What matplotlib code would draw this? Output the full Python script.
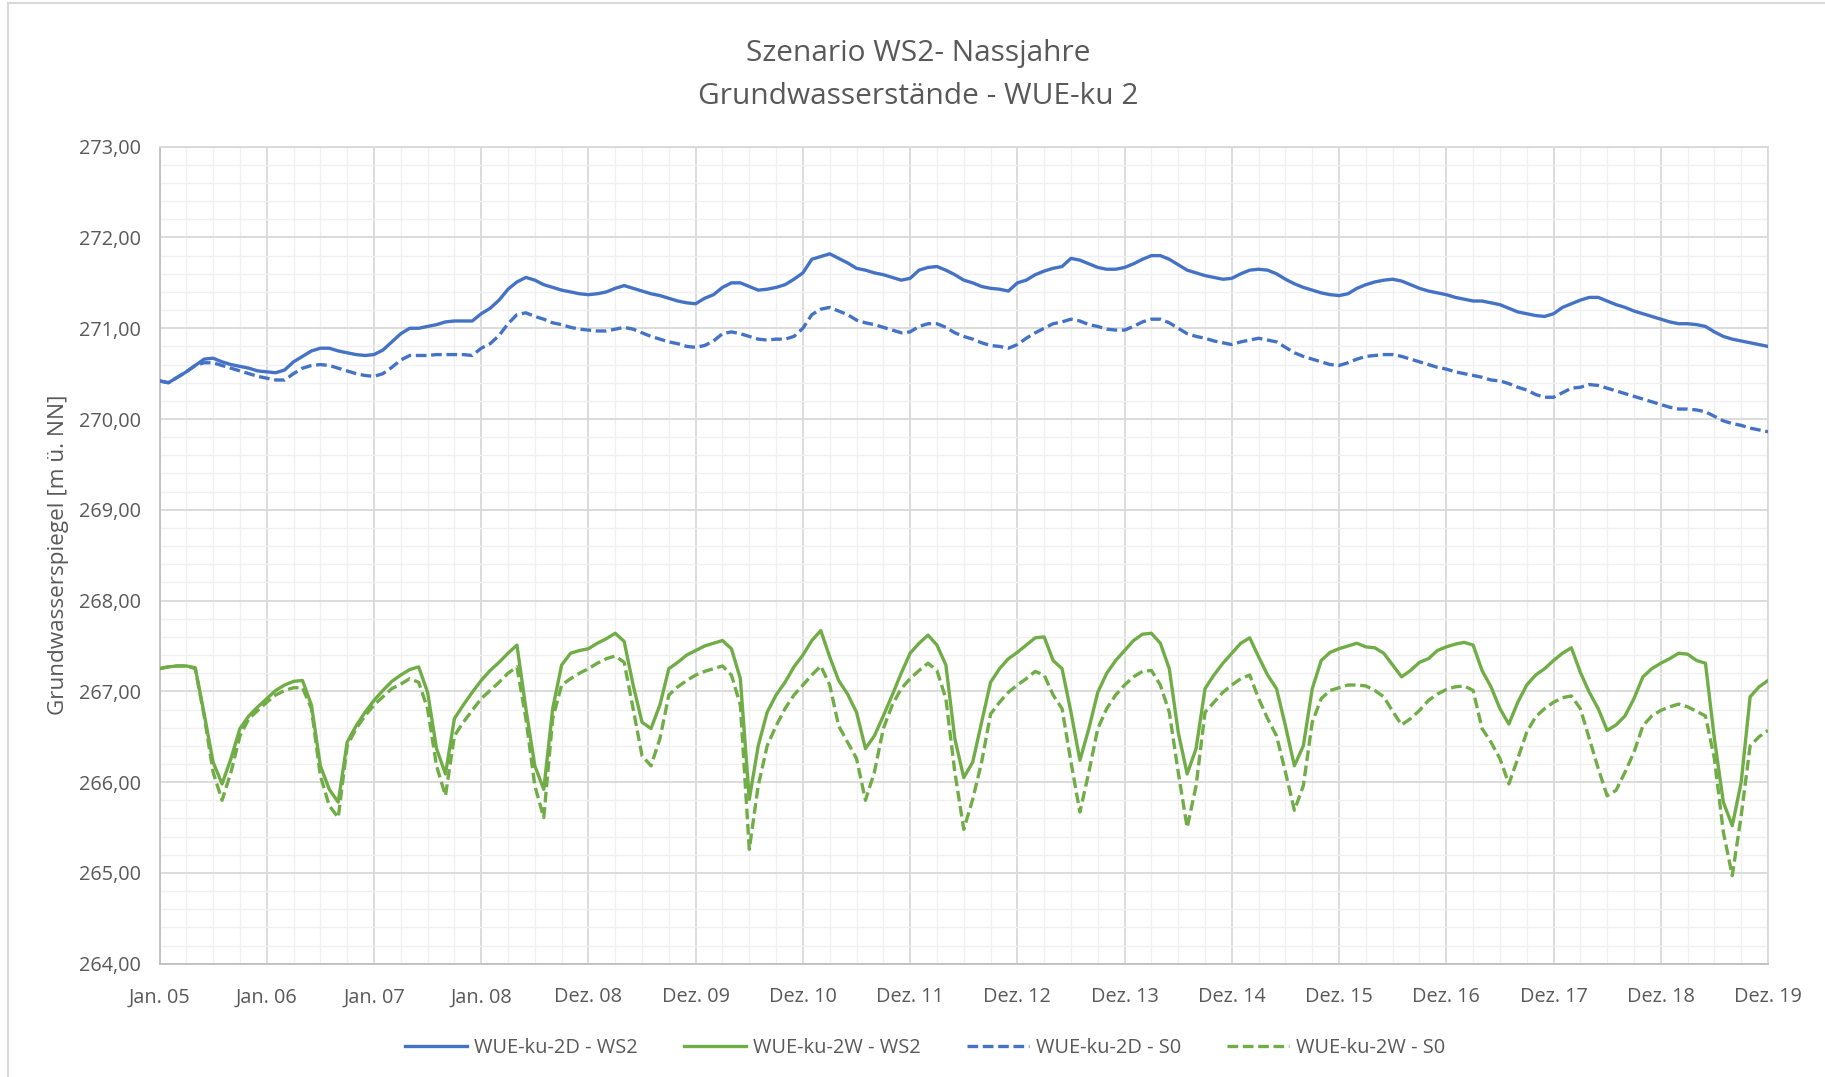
import numpy as np
import matplotlib
matplotlib.use("Agg")
import matplotlib.pyplot as plt
from matplotlib.lines import Line2D
from matplotlib.ticker import MultipleLocator, FixedLocator

# ---------------- data (monthly readings, Jan 05 .. Dez 19) ----------------
tick_labels = ["Jan. 05", "Jan. 06", "Jan. 07", "Jan. 08", "Dez. 08", "Dez. 09",
               "Dez. 10", "Dez. 11", "Dez. 12", "Dez. 13", "Dez. 14", "Dez. 15",
               "Dez. 16", "Dez. 17", "Dez. 18", "Dez. 19"]

wue_2d_ws2 = [
    270.42, 270.40, 270.46, 270.52, 270.59, 270.66, 270.67, 270.63, 270.60, 270.58, 270.56, 270.53,
    270.52, 270.51, 270.54, 270.63, 270.69, 270.75, 270.78, 270.78, 270.75, 270.73, 270.71, 270.70,
    270.71, 270.76, 270.85, 270.94, 271.00, 271.00, 271.02, 271.04, 271.07, 271.08, 271.08, 271.08,
    271.16, 271.22, 271.31, 271.43, 271.51, 271.56, 271.53, 271.48, 271.45, 271.42, 271.40, 271.38,
    271.37, 271.38, 271.40, 271.44, 271.47, 271.44, 271.41, 271.38, 271.36, 271.33, 271.30, 271.28,
    271.27, 271.33, 271.37, 271.45, 271.50, 271.50, 271.46, 271.42, 271.43, 271.45, 271.48, 271.54,
    271.61, 271.76, 271.79, 271.82, 271.77, 271.72, 271.66, 271.64, 271.61, 271.59, 271.56, 271.53,
    271.55, 271.64, 271.67, 271.68, 271.64, 271.59, 271.53, 271.50, 271.46, 271.44, 271.43, 271.41,
    271.50, 271.53, 271.59, 271.63, 271.66, 271.68, 271.77, 271.75, 271.71, 271.67, 271.65, 271.65,
    271.67, 271.71, 271.76, 271.80, 271.80, 271.76, 271.70, 271.64, 271.61, 271.58, 271.56, 271.54,
    271.55, 271.60, 271.64, 271.65, 271.64, 271.60, 271.54, 271.49, 271.45, 271.42, 271.39, 271.37,
    271.36, 271.38, 271.44, 271.48, 271.51, 271.53, 271.54, 271.52, 271.48, 271.44, 271.41, 271.39,
    271.37, 271.34, 271.32, 271.30, 271.30, 271.28, 271.26, 271.22, 271.18, 271.16, 271.14, 271.13,
    271.16, 271.23, 271.27, 271.31, 271.34, 271.34, 271.30, 271.26, 271.23, 271.19, 271.16, 271.13,
    271.10, 271.07, 271.05, 271.05, 271.04, 271.02, 270.96, 270.91, 270.88, 270.86, 270.84, 270.82,
    270.80]

wue_2w_ws2 = [
    267.25, 267.27, 267.28, 267.28, 267.26, 266.75, 266.22, 265.98, 266.26, 266.59, 266.73, 266.83,
    266.92, 267.01, 267.07, 267.11, 267.12, 266.85, 266.18, 265.92, 265.78, 266.44, 266.62, 266.77,
    266.90, 267.01, 267.11, 267.18, 267.24, 267.27, 266.99, 266.37, 266.09, 266.70, 266.85, 266.99,
    267.12, 267.23, 267.32, 267.42, 267.51, 266.81, 266.18, 265.92, 266.81, 267.29, 267.42, 267.45,
    267.47, 267.53, 267.58, 267.64, 267.55, 267.07, 266.66, 266.59, 266.85, 267.25, 267.32, 267.40,
    267.45, 267.50, 267.53, 267.56, 267.47, 267.14, 265.81, 266.40, 266.77, 266.96, 267.10, 267.27,
    267.40, 267.56, 267.67, 267.38, 267.12, 266.97, 266.77, 266.37, 266.51, 266.73, 266.96, 267.20,
    267.42, 267.53, 267.62, 267.51, 267.29, 266.48, 266.05, 266.22, 266.66, 267.10, 267.25, 267.36,
    267.43, 267.51, 267.59, 267.60, 267.34, 267.25, 266.77, 266.24, 266.59, 266.99, 267.20, 267.34,
    267.45, 267.56, 267.63, 267.64, 267.53, 267.25, 266.55, 266.09, 266.37, 267.03, 267.18, 267.31,
    267.42, 267.53, 267.59, 267.38, 267.18, 267.03, 266.62, 266.18, 266.40, 267.03, 267.34, 267.43,
    267.47, 267.50, 267.53, 267.49, 267.48, 267.42, 267.29, 267.16, 267.23, 267.32, 267.36, 267.45,
    267.49, 267.52, 267.54, 267.51, 267.23, 267.05, 266.81, 266.64, 266.88, 267.07, 267.18, 267.25,
    267.34, 267.42, 267.48, 267.21, 266.99, 266.81, 266.57, 266.63, 266.73, 266.92, 267.16, 267.25,
    267.31, 267.36, 267.42, 267.41, 267.34, 267.31, 266.48, 265.78, 265.52, 266.00, 266.94, 267.05,
    267.12]

wue_2d_s0 = [
    270.42, 270.40, 270.46, 270.52, 270.59, 270.62, 270.62, 270.59, 270.56, 270.53, 270.50, 270.47,
    270.45, 270.43, 270.43, 270.50, 270.56, 270.59, 270.60, 270.59, 270.56, 270.53, 270.50, 270.48,
    270.47, 270.50, 270.57, 270.65, 270.70, 270.70, 270.70, 270.71, 270.71, 270.71, 270.71, 270.70,
    270.78, 270.83, 270.92, 271.05, 271.15, 271.17, 271.13, 271.10, 271.06, 271.04, 271.01, 270.99,
    270.98, 270.97, 270.97, 270.99, 271.01, 270.99, 270.95, 270.91, 270.88, 270.85, 270.83, 270.80,
    270.79, 270.81, 270.86, 270.94, 270.96, 270.94, 270.91, 270.88, 270.87, 270.88, 270.88, 270.91,
    271.00, 271.15, 271.21, 271.23, 271.19, 271.15, 271.09, 271.06, 271.04, 271.01, 270.98, 270.95,
    270.96, 271.02, 271.05, 271.05, 271.01, 270.95, 270.91, 270.88, 270.84, 270.81, 270.80, 270.78,
    270.82, 270.89, 270.95, 271.00, 271.05, 271.07, 271.10, 271.08, 271.04, 271.02, 270.99, 270.98,
    270.98, 271.02, 271.07, 271.10, 271.10, 271.06, 271.00, 270.94, 270.91, 270.89, 270.86, 270.84,
    270.82, 270.85, 270.87, 270.89, 270.87, 270.85, 270.79, 270.73, 270.69, 270.66, 270.63, 270.60,
    270.59, 270.62, 270.66, 270.69, 270.70, 270.71, 270.71, 270.69, 270.66, 270.63, 270.60, 270.57,
    270.55, 270.52, 270.50, 270.48, 270.46, 270.43, 270.42, 270.39, 270.35, 270.32, 270.27, 270.24,
    270.24, 270.29, 270.34, 270.35, 270.38, 270.37, 270.34, 270.31, 270.28, 270.25, 270.22, 270.19,
    270.16, 270.13, 270.11, 270.11, 270.10, 270.08, 270.03, 269.98, 269.95, 269.93, 269.90, 269.88,
    269.86]

wue_2w_s0 = [
    267.25, 267.27, 267.28, 267.28, 267.25, 266.73, 266.11, 265.80, 266.11, 266.51, 266.70, 266.79,
    266.88, 266.96, 267.01, 267.04, 267.04, 266.81, 266.07, 265.74, 265.61, 266.40, 266.59, 266.73,
    266.85, 266.94, 267.03, 267.08, 267.14, 267.10, 266.81, 266.18, 265.85, 266.51, 266.66, 266.79,
    266.92, 267.01, 267.10, 267.20, 267.27, 266.70, 265.96, 265.61, 266.70, 267.07, 267.14, 267.20,
    267.25, 267.31, 267.36, 267.39, 267.32, 266.81, 266.29, 266.18, 266.48, 266.96, 267.05, 267.12,
    267.18, 267.22, 267.25, 267.28, 267.18, 266.85, 265.26, 265.96, 266.40, 266.62, 266.81, 266.96,
    267.07, 267.18, 267.28, 267.07, 266.62, 266.44, 266.26, 265.80, 266.11, 266.59, 266.85, 267.03,
    267.14, 267.23, 267.31, 267.23, 266.92, 266.11, 265.48, 265.81, 266.22, 266.75, 266.88, 266.99,
    267.07, 267.14, 267.22, 267.18, 266.96, 266.81, 266.22, 265.67, 266.11, 266.59, 266.81, 266.96,
    267.07, 267.16, 267.22, 267.23, 267.07, 266.77, 266.11, 265.50, 265.96, 266.77, 266.88, 266.99,
    267.07, 267.14, 267.18, 266.92, 266.70, 266.51, 266.11, 265.69, 265.96, 266.66, 266.92, 267.01,
    267.04, 267.07, 267.07, 267.06, 267.01, 266.94, 266.78, 266.63, 266.70, 266.79, 266.90, 266.97,
    267.02, 267.05, 267.06, 267.01, 266.59, 266.44, 266.26, 265.98, 266.26, 266.55, 266.72, 266.81,
    266.88, 266.93, 266.95, 266.81, 266.48, 266.15, 265.85, 265.91, 266.11, 266.33, 266.62, 266.73,
    266.79, 266.83, 266.86, 266.83, 266.78, 266.73, 266.26, 265.45, 264.97, 265.63, 266.40, 266.50,
    266.57]

series_names = ["WUE-ku-2D - WS2", "WUE-ku-2W - WS2", "WUE-ku-2D - S0", "WUE-ku-2W - S0"]

# ---------------- style ----------------
BLUE = "#4472C4"
GREEN = "#70AD47"
TXT = "#595959"
FONT = "Open Sans"
plt.rcParams["font.family"] = [FONT, "DejaVu Sans"]

W, H = 1825, 1077
fig = plt.figure(figsize=(W / 100, H / 100), dpi=100)
fig.patch.set_facecolor("white")

L, R, T, B = 159.5, 1768, 146.7, 963.7
ax = fig.add_axes([L / W, 1 - B / H, (R - L) / W, (B - T) / H])

months = np.arange(len(wue_2d_ws2))
lw = 2.4
dash = (0, (3.2, 1.4))
ax.plot(months, wue_2d_ws2, color=BLUE, lw=lw, label=series_names[0], zorder=4)
ax.plot(months, wue_2w_ws2, color=GREEN, lw=lw, label=series_names[1], zorder=4)
ax.plot(months, wue_2d_s0, color=BLUE, lw=lw, ls=dash, label=series_names[2], zorder=3)
ax.plot(months, wue_2w_s0, color=GREEN, lw=lw, ls=dash, label=series_names[3], zorder=3)

ax.set_xlim(0, 180)
ax.set_ylim(264, 273)
ax.xaxis.set_major_locator(FixedLocator(np.arange(0, 181, 12)))
ax.set_xticklabels(tick_labels)
ax.xaxis.set_minor_locator(MultipleLocator(3))
ax.set_yticks(np.arange(264, 273.5, 1))
ax.set_yticklabels([f"{v:.2f}".replace(".", ",") for v in np.arange(264, 273.5, 1)])
ax.yaxis.set_minor_locator(MultipleLocator(0.2))

ax.grid(which="major", color="#d9d9d9", lw=1.3, zorder=1)
ax.grid(which="minor", color="#f0f0f0", lw=1.0, zorder=0)
ax.set_axisbelow(True)
ax.tick_params(which="both", length=0)
ax.tick_params(axis="y", pad=13.5, labelsize=14.3, labelcolor=TXT)
ax.tick_params(axis="x", pad=17, labelsize=14.3, labelcolor=TXT)
for s in ax.spines.values():
    s.set_color("#d9d9d9")
    s.set_linewidth(1.3)
ax.spines["left"].set_color("#bfbfbf")
ax.spines["bottom"].set_color("#bfbfbf")

ax.set_ylabel("Grundwasserspiegel [m ü. NN]", fontsize=16.2, color=TXT)
ax.yaxis.set_label_coords((69 - L) / (R - L), 0.5)

fig.text(918 / W, 1 - 61 / H, "Szenario WS2- Nassjahre", ha="center", va="baseline",
         fontsize=21.5, color=TXT)
fig.text(918 / W, 1 - 104 / H, "Grundwasserstände - WUE-ku 2", ha="center", va="baseline",
         fontsize=21.5, color=TXT)

leg = fig.legend(loc="center", bbox_to_anchor=(925 / W, 1 - 1048 / H), ncol=4,
                 frameon=False, fontsize=14.4, handlelength=3.1, handletextpad=0.35,
                 columnspacing=2.3, labelcolor=TXT)

# chart border (left and top edges visible)
fig.add_artist(Line2D([8 / W, 8 / W], [0, 1 - 3 / H], transform=fig.transFigure,
                      color="#d9d9d9", lw=1.5))
fig.add_artist(Line2D([8 / W, 1], [1 - 3 / H, 1 - 3 / H], transform=fig.transFigure,
                      color="#d9d9d9", lw=1.5))

fig.savefig("out.png", dpi=100)
